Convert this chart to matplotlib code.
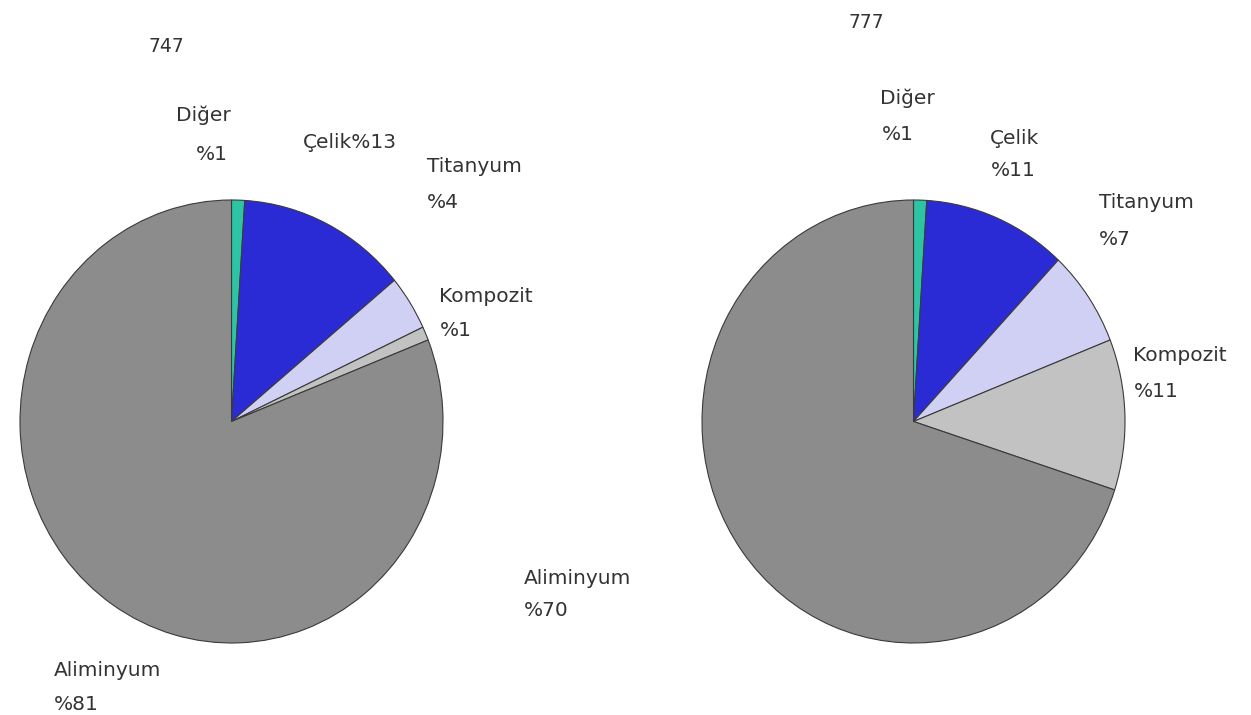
import matplotlib
matplotlib.use("Agg")
import matplotlib.pyplot as plt

W, H = 1251, 715

categories = ["Diğer", "Çelik", "Titanyum", "Kompozit", "Aliminyum"]
values_747 = [1, 13, 4, 1, 81]
values_777 = [1, 11, 7, 11, 70]
titles = ["747", "777"]
colors = ["#2cc4a2", "#2b2bd6", "#d0d0f4", "#c2c2c2", "#8c8c8c"]

plt.rcParams["font.family"] = ["DejaVu Sans"]

fig = plt.figure(figsize=(W / 100, H / 100), dpi=100)
fig.patch.set_facecolor("white")


def px_axes(x0, x1, y0, y1):
    return fig.add_axes([x0 / W, 1 - y1 / H, (x1 - x0) / W, (y1 - y0) / H])


def draw_pie(ax, vals):
    ax.pie(vals, colors=colors, startangle=90, counterclock=False,
           radius=1.0, wedgeprops=dict(edgecolor="#3a3a3a", linewidth=0.8))
    ax.set_aspect("auto")
    ax.set_xlim(-1.0, 1.0)
    ax.set_ylim(-1.0, 1.0)
    ax.axis("off")


axL = px_axes(20, 443, 200, 643)
draw_pie(axL, values_747)
axR = px_axes(702, 1125, 200, 643)
draw_pie(axR, values_777)


def t(x, y, s):
    fig.text(x / W, 1 - y / H, s, ha="left", va="center",
             fontsize=14.5, color="#333333")


def t_small(x, y, s):
    fig.text(x / W, 1 - y / H, s, ha="left", va="center",
             fontsize=13.5, color="#333333")


# titles
t_small(148, 47, titles[0])
t_small(848, 22, titles[1])

# left labels
t(176, 115, categories[0])
t(196, 154, "%" + str(values_747[0]))
t(303, 142, categories[1] + "%" + str(values_747[1]))
t(427, 166, categories[2])
t(427, 203, "%" + str(values_747[2]))
t(439, 296, categories[3])
t(440, 330, "%" + str(values_747[3]))
t(54, 670, categories[4])
t(54, 705, "%" + str(values_747[4]))

# right labels
t(880, 98, categories[0])
t(882, 135, "%" + str(values_777[0]))
t(990, 139, categories[1])
t(991, 171, "%" + str(values_777[1]))
t(1099, 203, categories[2])
t(1099, 240, "%" + str(values_777[2]))
t(1133, 356, categories[3])
t(1134, 391, "%" + str(values_777[3]))
t(524, 578, categories[4])
t(524, 611, "%" + str(values_777[4]))

fig.savefig("out.png", dpi=100, facecolor="white")
